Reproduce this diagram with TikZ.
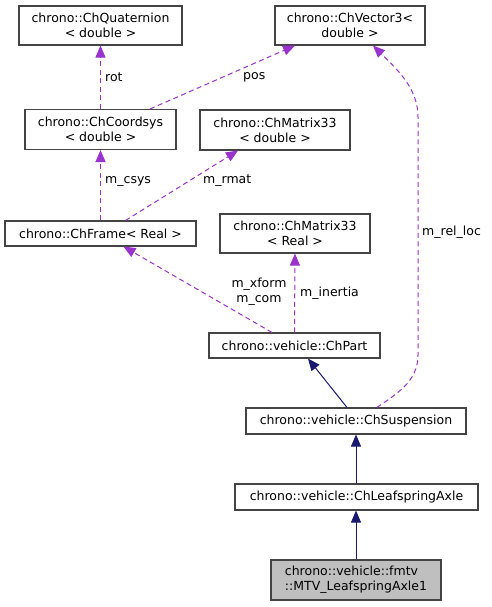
\documentclass[tikz,border=0pt]{standalone}
\usepackage{fontspec}
\setmainfont{DejaVu Sans}
\usetikzlibrary{arrows.meta}
\definecolor{edgepurple}{HTML}{9A32CD}
\definecolor{edgenavy}{HTML}{191970}
\definecolor{boxborder}{HTML}{444444}
\definecolor{boxgray}{HTML}{BFBFBF}
\begin{document}
\begin{tikzpicture}[x=1pt,y=-1pt,
  every node/.style={font=\fontsize{12.5}{14.8}\selectfont},
  box/.style={draw=boxborder,line width=1.1pt,fill=white,inner sep=0pt,align=center,minimum height=#1},
  box/.default=25pt,
  member/.style={draw=edgepurple,line width=1pt,dash pattern=on 5pt off 3.5pt,-{Triangle[length=12pt,width=10pt,fill=edgepurple]}},
  inherit/.style={draw=edgenavy,line width=1pt,-{Triangle[length=12pt,width=10pt,fill=edgenavy]}},
  lbl/.style={inner sep=0pt,anchor=west}]
\useasboundingbox (0,0) rectangle (491,607);
\node[box=39pt,minimum width=163pt] (quat) at (100.5,25.5) {chrono::ChQuaternion\\{< double >}};
\node[box=39pt,minimum width=150pt] (vec) at (350,25.5) {chrono::ChVector3<\\double >};
\node[box=40pt,minimum width=151pt] (csys) at (100.5,129.5) {chrono::ChCoordsys\\{< double >}};
\node[box=40pt,minimum width=150pt] (m33d) at (275,130) {chrono::ChMatrix33\\{< double >}};
\node[box,minimum width=191pt] (frame) at (100.5,233.5) {chrono::ChFrame< Real >};
\node[box=39pt,minimum width=150pt] (m33r) at (295,233.5) {chrono::ChMatrix33\\{< Real >}};
\node[box,minimum width=171pt] (part) at (294.5,345.5) {chrono::vehicle::ChPart};
\node[box=26pt,minimum width=220pt] (susp) at (356,421) {chrono::vehicle::ChSuspension};
\node[box=26pt,minimum width=243pt] (leaf) at (356.5,497) {chrono::vehicle::ChLeafspringAxle};
\node[box=40pt,minimum width=170pt,fill=boxgray,align=left] (mtv) at (356,580) {chrono::vehicle::fmtv\\::MTV\_LeafspringAxle1};
% member edges
\draw[member] (csys.north) -- (quat.south);
\node[lbl] (lrot) at (105,77) {rot};
\draw[member] ([xshift=49.5pt]csys.north) -- ([xshift=-55pt]vec.south);
\node[lbl] (lpos) at (243,77) {pos};
\draw[member] (frame.north) -- (csys.south);
\node[lbl] (lcsys) at (105,181) {m\_csys};
\draw[member] ([xshift=25pt]frame.north) -- ([xshift=-37pt]m33d.south);
\node[lbl] (lrmat) at (203,181) {m\_rmat};
\draw[member] ([xshift=-22.5pt]part.north) -- ([xshift=23pt]frame.south);
\node[inner sep=0pt,align=center] (lxform) at (259,292) {m\_xform\\m\_com};
\draw[member] (part.north) -- (m33r.south);
\node[lbl] (linertia) at (300,293) {m\_inertia};
\draw[member] ([xshift=21pt]susp.north) .. controls (396,394) and (418,382) .. (418,355) -- (418,117) .. controls (418,90) and (400,72) .. ([xshift=23pt]vec.south);
\node[lbl] (lrel) at (422,232) {m\_rel\_loc};
% inheritance
\draw[inherit] ([xshift=-9pt]susp.north) -- ([xshift=13.5pt]part.south);
\draw[inherit] (leaf.north -| susp.south) -- (susp.south);
\draw[inherit] (mtv.north) -- (mtv.north |- leaf.south);
\end{tikzpicture}
\end{document}
